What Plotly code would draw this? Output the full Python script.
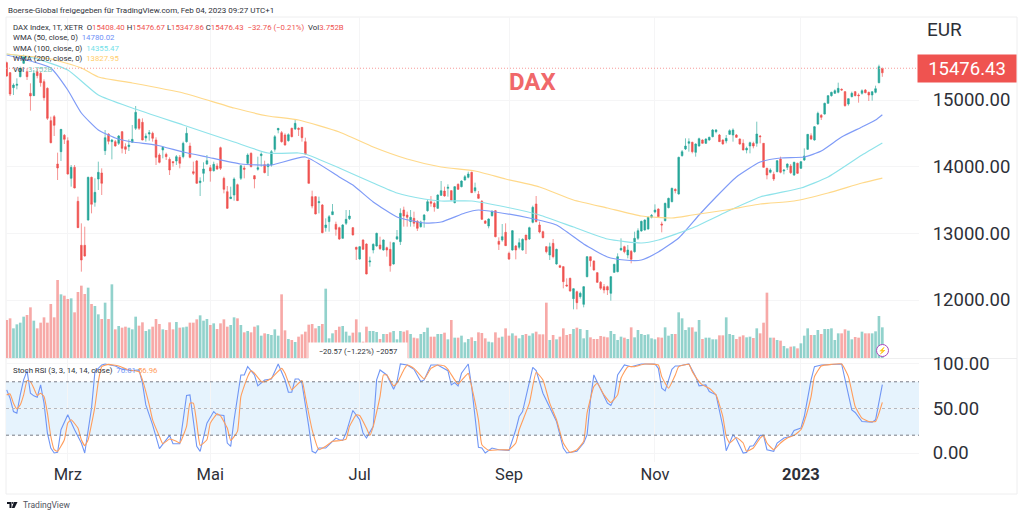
import plotly.graph_objects as go

W, H = 1024, 516
FONT = "Roboto"
GREEN = "#26a69a"
RED = "#ef5350"
GRID_COLOR = "#f5f5f6"
FRAME_COLOR = "#eeeeef"
TEXT_COLOR = "#2e3038"

OPEN = [15560, 15410, 15185, 15220, 15350, 15550, 15425, 15100, 15065, 15425,
        15400, 15275, 15175, 14690, 14750, 14040, 14225, 14470, 14390, 13825,
        13990, 13480, 12820, 12820, 13200, 13840, 13465, 13815, 13905, 14240,
        14490, 14375, 14375, 14350, 14525, 14300, 14300, 14365, 14575, 14710,
        14665, 14430, 14490, 14500, 14400, 14175, 14250, 14185, 14110, 14075,
        14085, 14140, 14150, 14375, 14310, 13925, 14085, 13760, 13900, 14040,
        13985, 13940, 14010, 14285, 13825, 13625, 13520, 13575, 13730, 13825,
        13980, 14050, 14200, 13865, 13960, 14165, 14030, 14000, 14025, 14260,
        14550, 14510, 14475, 14390, 14575, 14565, 14575, 14590, 14375, 14100,
        13550, 13550, 13460, 13425, 13085, 13175, 13280, 13135, 13085, 12925,
        13150, 13220, 13085, 12790, 12615, 12900, 12840, 12570, 12750, 12810,
        12825, 12750, 12785, 12760, 12540, 12915, 12875, 13350, 13275, 13175,
        13225, 13180, 13100, 13200, 13340, 13475, 13450, 13375, 13570, 13635,
        13675, 13640, 13460, 13735, 13700, 13800, 13840, 13915, 13640, 13585,
        13480, 13185, 13110, 13265, 13340, 12880, 12900, 13015, 12700, 12750,
        12810, 12790, 12750, 12975, 12915, 13165, 13440, 13125, 13025, 12800,
        12675, 12850, 12540, 12515, 12500, 12225, 12325, 12020, 12125, 12050,
        11935, 12350, 12650, 12585, 12410, 12265, 12200, 12200, 12100, 12415,
        12425, 12750, 12800, 12675, 12730, 12725, 12925, 13035, 13050, 13065,
        13240, 13320, 13365, 13140, 13190, 13385, 13475, 13660, 13590, 14165,
        14265, 14350, 14365, 14215, 14310, 14400, 14350, 14400, 14450, 14525,
        14475, 14400, 14385, 14485, 14475, 14475, 14415, 14350, 14250, 14310,
        14350, 14350, 14460, 14350, 13975, 13915, 13885, 13925, 14115, 13935,
        13990, 14010, 13875, 14050, 13975, 14100, 14260, 14465, 14400, 14640,
        14770, 14790, 14950, 15065, 15100, 15115, 15160, 15125, 14940, 15050,
        15125, 15075, 15100, 15150, 15115, 15075, 15115, 15260, 15408.40]
HIGH = [15575, 15420, 15250, 15325, 15500, 15680, 15475, 15250, 15450, 15475,
        15425, 15310, 15190, 14750, 14775, 14210, 14565, 14490, 14440, 14025,
        14025, 13550, 13150, 13100, 13850, 13850, 13825, 14075, 13975, 14550,
        14500, 14415, 14400, 14475, 14535, 14350, 14410, 14625, 14910, 14725,
        14725, 14500, 14550, 14525, 14440, 14200, 14300, 14210, 14140, 14085,
        14175, 14175, 14375, 14590, 14360, 14075, 14100, 13840, 14065, 14175,
        14025, 14075, 14050, 14300, 13850, 13710, 13700, 13840, 13745, 14025,
        14015, 14200, 14215, 13875, 14150, 14215, 14090, 14050, 14250, 14475,
        14580, 14535, 14500, 14500, 14585, 14700, 14590, 14590, 14435, 14110,
        13640, 13560, 13550, 13440, 13225, 13275, 13440, 13175, 13100, 13140,
        13350, 13350, 13095, 12800, 12810, 12910, 12850, 12650, 12850, 13010,
        12950, 12910, 12800, 12875, 12870, 13050, 13375, 13400, 13325, 13350,
        13325, 13200, 13190, 13290, 13500, 13560, 13475, 13585, 13785, 13700,
        13735, 13650, 13710, 13750, 13795, 13875, 13925, 13925, 13760, 13635,
        13500, 13200, 13225, 13350, 13350, 12940, 13140, 13150, 12725, 13050,
        12825, 12925, 12925, 12975, 13100, 13415, 13560, 13175, 13040, 12810,
        12860, 12915, 12770, 12530, 12510, 12325, 12335, 12175, 12140, 12125,
        12210, 12660, 12650, 12595, 12420, 12285, 12240, 12215, 12360, 12545,
        12700, 12925, 12815, 12825, 12750, 13025, 13075, 13190, 13210, 13250,
        13290, 13435, 13375, 13175, 13460, 13535, 13685, 13675, 14150, 14250,
        14425, 14425, 14375, 14350, 14435, 14410, 14425, 14450, 14565, 14565,
        14490, 14410, 14475, 14560, 14575, 14490, 14425, 14410, 14300, 14375,
        14375, 14675, 14475, 14355, 13985, 13975, 13925, 14100, 14150, 13960,
        14050, 14040, 14075, 14060, 14085, 14275, 14490, 14500, 14610, 14825,
        14790, 14960, 15075, 15125, 15160, 15260, 15175, 15135, 15025, 15125,
        15135, 15100, 15160, 15165, 15125, 15130, 15215, 15530, 15476.67]
LOW = [15350, 15060, 15075, 15160, 15340, 15540, 15300, 14840, 15060, 15325,
       15200, 14990, 14700, 14350, 14460, 13800, 14085, 14340, 13880, 13700,
       13675, 13080, 12425, 12650, 13190, 13300, 13400, 13650, 13575, 14175,
       14335, 14110, 14300, 14325, 14200, 14190, 14235, 14360, 14550, 14550,
       14395, 14375, 14390, 14375, 14025, 14050, 14125, 14100, 13875, 14000,
       14025, 13975, 14125, 14360, 14125, 13875, 13745, 13560, 13775, 14025,
       13775, 13925, 13950, 13950, 13600, 13365, 13515, 13490, 13485, 13800,
       13825, 14025, 13990, 13675, 13940, 14000, 13900, 13860, 14000, 14225,
       14500, 14360, 14315, 14375, 14440, 14550, 14460, 14375, 14175, 13745,
       13375, 13285, 13300, 13000, 13025, 13025, 13275, 12965, 12900, 12920,
       13125, 13200, 12970, 12600, 12605, 12750, 12385, 12500, 12700, 12800,
       12750, 12740, 12650, 12425, 12530, 12900, 12825, 13100, 13100, 13100,
       13100, 13035, 13085, 13085, 13325, 13400, 13325, 13365, 13560, 13550,
       13550, 13490, 13450, 13650, 13690, 13790, 13825, 13605, 13610, 13515,
       13200, 13140, 13075, 13250, 12940, 12750, 12875, 12810, 12600, 12740,
       12610, 12760, 12740, 12690, 12900, 13150, 13165, 13000, 12925, 12700,
       12600, 12625, 12530, 12480, 12175, 12200, 12125, 11860, 11860, 12020,
       11890, 12340, 12500, 12440, 12255, 12150, 12100, 12075, 11990, 12405,
       12415, 12740, 12700, 12625, 12550, 12710, 12900, 13025, 13040, 13055,
       13225, 13300, 13240, 13015, 13180, 13375, 13465, 13600, 13580, 14150,
       14250, 14225, 14200, 14150, 14300, 14345, 14340, 14390, 14440, 14500,
       14370, 14330, 14350, 14475, 14375, 14430, 14330, 14245, 14200, 14200,
       14275, 14300, 14350, 13985, 13810, 13900, 13785, 13915, 13900, 13885,
       13950, 13890, 13860, 13890, 13965, 14085, 14250, 14400, 14390, 14625,
       14700, 14780, 14945, 15050, 15090, 15100, 15140, 14900, 14915, 15040,
       15055, 14960, 15080, 15100, 14985, 14990, 15100, 15250, 15347.86]
CLOSE = [15360, 15090, 15225, 15235, 15475, 15650, 15350, 15060, 15400, 15365,
         15260, 15035, 14725, 14360, 14620, 13980, 14560, 14410, 13890, 13990,
         13680, 13085, 12600, 12660, 13840, 13435, 13615, 13915, 13750, 14435,
         14380, 14400, 14310, 14460, 14275, 14260, 14325, 14410, 14815, 14575,
         14400, 14460, 14510, 14425, 14140, 14065, 14290, 14150, 13950, 14060,
         14150, 14050, 14350, 14500, 14140, 13900, 13750, 13785, 13965, 14090,
         13935, 14035, 13965, 13975, 13660, 13375, 13545, 13815, 13490, 14015,
         13960, 14175, 14000, 13815, 13985, 14190, 13910, 14035, 14225, 14450,
         14575, 14375, 14325, 14480, 14450, 14650, 14560, 14435, 14190, 13750,
         13410, 13290, 13475, 13010, 13125, 13250, 13325, 13060, 12915, 13125,
         13210, 13260, 12975, 12760, 12800, 12760, 12390, 12585, 12835, 13000,
         12770, 12900, 12750, 12515, 12860, 12950, 13300, 13260, 13240, 13240,
         13150, 13075, 13170, 13275, 13475, 13450, 13395, 13575, 13640, 13560,
         13690, 13500, 13700, 13660, 13785, 13850, 13890, 13610, 13685, 13525,
         13210, 13150, 13215, 13325, 12950, 12835, 12950, 12815, 12615, 13040,
         12750, 12860, 12910, 12900, 13085, 13390, 13175, 13020, 12935, 12725,
         12800, 12650, 12760, 12490, 12275, 12210, 12135, 12170, 11960, 12100,
         12200, 12650, 12590, 12450, 12265, 12175, 12150, 12150, 12350, 12535,
         12650, 12775, 12725, 12750, 12610, 12925, 13040, 13180, 13200, 13240,
         13270, 13350, 13250, 13125, 13450, 13525, 13675, 13640, 14140, 14225,
         14310, 14375, 14225, 14340, 14420, 14350, 14415, 14440, 14550, 14550,
         14375, 14340, 14425, 14540, 14550, 14440, 14340, 14250, 14275, 14360,
         14310, 14490, 14450, 13990, 13875, 13950, 13815, 14090, 13915, 13950,
         14040, 13910, 14065, 13900, 14075, 14160, 14485, 14415, 14600, 14800,
         14740, 14950, 15065, 15115, 15140, 15175, 15150, 14915, 15020, 15100,
         15065, 15065, 15140, 15110, 15075, 15125, 15170, 15500, 15476.43]
# 92 of these equal the 3.752B of the last session
VOLUME_READ = [114, 119, 89, 101, 106, 124, 129, 152, 112, 89,
               106, 122, 106, 162, 122, 234, 191, 187, 177, 179,
               137, 198, 217, 192, 211, 162, 156, 131, 117, 166,
               117, 221, 86, 96, 91, 94, 91, 86, 124, 97,
               107, 81, 86, 94, 117, 102, 86, 84, 107, 86,
               108, 91, 92, 94, 106, 106, 116, 128, 112, 117,
               99, 104, 87, 104, 116, 94, 99, 122, 119, 99,
               77, 81, 77, 94, 98, 67, 74, 72, 69, 86,
               67, 191, 83, 57, 54, 48, 64, 71, 79, 100,
               102, 89, 96, 102, 208, 59, 74, 84,
               94, 96, 79, 67, 76, 116, 77, 49, 94, 81,
               81, 78, 57, 72, 72, 77, 81, 56, 81, 79,
               83, 72, 61, 59, 72, 78, 91, 64, 64, 72,
               72, 76, 56, 114, 61, 61, 67, 47, 57, 62,
               51, 77, 75, 59, 49, 47, 77, 61, 64, 89,
               67, 74, 67, 59, 69, 72, 67, 74, 79, 71,
               71, 166, 54, 69, 56, 64, 89, 69, 72, 87,
               91, 87, 59, 84, 62, 57, 57, 66, 64, 62,
               81, 72, 54, 64, 61, 57, 92, 62, 84, 72,
               69, 71, 59, 56, 62,
               61, 92, 67, 72, 72, 137, 119, 84, 92, 92,
               79, 114, 57, 61, 61, 56, 56, 68, 68, 122,
               72, 69, 57, 64, 68, 62, 64, 60, 89, 74,
               106, 196, 61, 61, 54, 52, 36, 29, 34, 35,
               29, 44, 67, 89, 69, 69, 84, 72, 87, 87,
               89, 54, 74, 74, 86, 82, 56, 63, 61, 79,
               74, 74, 74, 80, 126, 92]

WMA50_AT = [0, 8, 13, 18, 22, 27, 32, 37, 44, 52, 59, 69, 78, 88, 98, 102, 108, 115, 123, 128, 135, 139, 144,
            154, 162, 170, 177, 182, 187, 192, 198, 204, 209, 215, 222, 228, 235, 240, 246, 252, 256, 258]
WMA50 = [15675, 15570, 15480, 15150, 14805, 14550, 14430, 14370, 14325, 14220, 14145, 14040, 14025, 14145,
         13845, 13725, 13470, 13245, 13155, 13170, 13305, 13350, 13320, 13230, 13125, 12840, 12645, 12600,
         12600, 12720, 12930, 13275, 13545, 13845, 14070, 14130, 14145, 14235, 14445, 14595, 14700, 14780.02]
WMA100_AT = [0, 8, 18, 27, 37, 52, 67, 77, 86, 88, 98, 108, 115, 123, 128, 137, 147, 157, 167, 177, 187, 192,
             202, 212, 222, 234, 242, 252, 258]
WMA100 = [15690, 15630, 15450, 15075, 14880, 14625, 14370, 14205, 14205, 14190, 13980, 13755, 13605, 13515,
          13485, 13485, 13395, 13275, 13095, 12915, 12855, 12900, 13080, 13320, 13545, 13680, 13845, 14175,
          14355.47]
WMA200_AT = [0, 13, 22, 27, 37, 52, 67, 77, 86, 98, 108, 118, 128, 138, 147, 157, 167, 177, 187, 196, 202, 212,
             222, 232, 242, 252, 258]
WMA200 = [15690, 15615, 15480, 15345, 15255, 15105, 14880, 14760, 14700, 14520, 14295, 14115, 13995, 13935,
          13815, 13695, 13500, 13380, 13260, 13230, 13275, 13350, 13440, 13485, 13605, 13755, 13827.95]

STOCH_K_AT = [0, 1, 2, 3, 4, 5, 6, 7, 8, 9, 10, 11, 12, 13, 14, 15, 16, 18, 20, 22, 23, 25, 26, 28, 29, 32, 34,
              37, 39, 40, 41, 43, 45, 47, 48, 49, 51, 52, 53, 54, 56, 57, 59, 61, 62, 64, 65, 66, 67, 69, 70,
              71, 73, 74, 76, 78, 80, 82, 83, 84, 85, 86, 87, 89, 90, 91, 92, 94, 95, 97, 98, 99, 100, 102,
              104, 105, 106, 108, 109, 110, 112, 114, 115, 116, 118, 120, 122, 123, 125, 127, 130, 131, 132,
              133, 134, 136, 137, 138, 139, 140, 141, 143, 145, 148, 150, 151, 152, 155, 156, 158, 160, 162,
              164, 165, 168, 170, 171, 172, 173, 175, 177, 178, 179, 180, 182, 184, 187, 191, 192, 193, 194,
              196, 197, 198, 201, 203, 204, 206, 207, 209, 211, 212, 214, 215, 217, 218, 219, 220, 222, 223,
              224, 226, 227, 229, 231, 232, 234, 235, 237, 238, 240, 246, 249, 250, 252, 255, 256, 258]
STOCH_K = [70.9, 61.6, 46.6, 44.8, 65.3, 82.1, 92.5, 67.2, 64.2, 62.7, 76.5, 56, 22.4, 5.6, 0, 0.7, 26.1, 42.9,
           26.1, 11.2, 0, 50.4, 91.4, 98.9, 100, 97.8, 94, 92.5, 93.3, 78.4, 54, 31.7, 4.9, 14.9, 19.8, 10.4,
           10.4, 37.3, 64.6, 65.3, 7.5, 1.9, 33.6, 46.6, 42.9, 42.2, 11.2, 7.5, 37.3, 87.7, 87.7, 97, 87.7,
           75.4, 82, 83.2, 100, 82, 68.3, 68.3, 83.2, 83.2, 78.4, 29.9, 1.9, 0, 5.6, 5.6, 9.3, 16.8, 14.9, 14.2,
           22.4, 47.8, 37.3, 22.4, 16.8, 29.9, 82.1, 93.3, 87.7, 71.6, 80.2, 100, 98.9, 94, 80.2, 82.1, 98.9,
           98.9, 92.5, 76.5, 79.1, 75.4, 89.6, 100, 74.6, 37.3, 6.3, 5.6, 0, 5.6, 3.7, 3, 26.1, 41, 46.6, 96.3,
           92.5, 67.2, 52.2, 35.4, 5.6, 0, 1.9, 11.2, 20.5, 59.7, 87.7, 70.9, 56, 53.4, 61.6, 87.7, 98.9, 97,
           100, 100, 95.1, 72.8, 69.8, 94, 97.8, 97.8, 100, 85.8, 75.4, 76.5, 69, 65.3, 29.9, 2.6, 20.5, 15.7,
           0, 0.7, 7.5, 8.2, 19.8, 19.8, 3.7, 1.9, 11.2, 16.8, 18.7, 25.4, 28, 41, 82.1, 97, 98.9, 100, 48.5,
           45.5, 35.4, 34.7, 37.3, 76.81]
STOCH_D_AT = [0, 1, 2, 3, 4, 5, 6, 7, 8, 9, 10, 11, 12, 13, 14, 15, 17, 18, 19, 21, 22, 23, 24, 26, 27, 28, 30,
              33, 36, 39, 40, 42, 43, 45, 46, 48, 50, 51, 53, 54, 55, 56, 57, 59, 60, 62, 63, 65, 66, 68, 69,
              71, 72, 73, 75, 76, 78, 81, 82, 84, 85, 87, 88, 90, 92, 94, 96, 98, 100, 101, 103, 104, 106, 107,
              108, 110, 111, 112, 114, 115, 117, 118, 120, 123, 125, 127, 129, 130, 132, 133, 135, 136, 137,
              139, 140, 142, 145, 148, 150, 151, 154, 156, 158, 160, 162, 164, 166, 168, 170, 171, 173, 174,
              176, 178, 180, 181, 183, 185, 188, 192, 193, 195, 197, 198, 201, 202, 204, 205, 207, 209, 211,
              212, 213, 215, 217, 218, 220, 222, 223, 224, 226, 228, 230, 232, 234, 235, 237, 238, 240, 243,
              246, 248, 250, 252, 254, 256, 258]
STOCH_D = [65.3, 66.4, 56, 49.6, 54.1, 65.3, 81.3, 80.2, 72.8, 64.6, 67.2, 63.4, 44.8, 18.7, 3.7, 1.9, 14.9,
           33.6, 37.3, 28, 14.9, 8.2, 14.9, 52.2, 80.2, 97, 99.6, 97.8, 93.3, 91.4, 82.1, 54.1, 37.3, 18.7,
           10.4, 15.7, 13.1, 11.2, 29.9, 56, 56, 33.6, 8.6, 14.9, 33.6, 44, 41.8, 28, 14.2, 24.3, 63.4, 85.8,
           92.5, 89.6, 80.2, 80.2, 84, 95.1, 89.6, 70.9, 74.6, 81.3, 63.4, 26.1, 3.7, 7.5, 13.1, 13.8, 15.7,
           29.9, 42.9, 42.2, 28, 19.8, 29.9, 63.4, 87.7, 87.7, 75.4, 78.4, 93.3, 98.9, 95.1, 83.2, 95.1, 98.9,
           97.8, 94, 82.1, 77.6, 85.8, 89.6, 74.6, 37.3, 9.3, 3, 3.7, 3.7, 11.2, 26.1, 56, 90.7, 82.1, 56, 37.3,
           11.2, 0.7, 3.7, 13.1, 44.8, 74.6, 78.4, 65.3, 56.7, 65.3, 84, 97, 97, 100, 98.9, 85.8, 72.8, 87.7,
           97, 99.6, 91.4, 80.2, 76.5, 72.8, 65.3, 41, 18.7, 11.2, 17.5, 11.2, 1.9, 5.6, 16.8, 19.8, 11.2, 3.7,
           11.2, 16.8, 19.8, 26.1, 35.4, 63.4, 85.8, 97.8, 99.6, 100, 85.8, 52.2, 39.2, 35.4, 35.4, 56.96]

MONTH_TICKS = [18, 60, 104, 148, 191, 234]
MONTH_LABELS = ["Mrz", "Mai", "Jul", "Sep", "Nov", "<b>2023</b>"]
PRICE_TICKS = [12000, 13000, 14000, 15000]
STOCH_TICKS = [0, 50, 100]
LAST_PRICE = 15476.43
STOCH_UPPER, STOCH_MID, STOCH_LOWER = 80, 50, 20

HEADER = "Boerse-Global freigegeben für TradingView.com, Feb 04, 2023 09:27 UTC+1"
TITLE = "DAX"


def px_x(x):
    return x / W


def px_y(y):
    return 1 - y / H


def colored(text, color):
    return f'<span style="color:{color}">{text}</span>'


def note(x, y, text, size=7.8, color=TEXT_COLOR, **kwargs):
    return dict(xref="paper", yref="paper", x=px_x(x), y=px_y(y), text=text, showarrow=False,
                xanchor=kwargs.pop("xanchor", "left"), yanchor="middle",
                font=dict(family=FONT, size=size, color=color), **kwargs)


def frame_line(x0, y0, x1, y1):
    return dict(type="line", xref="paper", yref="paper", x0=px_x(x0), y0=px_y(y0), x1=px_x(x1), y1=px_y(y1),
                line=dict(color=FRAME_COLOR, width=1), layer="below")


def stoch_level(value, color):
    return dict(type="line", xref="paper", yref="y3", x0=px_x(6), x1=px_x(919), y0=value, y1=value,
                line=dict(color=color, width=1, dash="3px,3px"))


sessions = list(range(len(CLOSE)))
# TradingView paints the last bar by the previous close, so it gets its own trace
painted = sessions[:-1]
volume_million = [v * 3752 / 92 for v in VOLUME_READ]
volume_colors = ["rgba(38,166,154,0.5)" if CLOSE[i] >= OPEN[i] else "rgba(239,83,80,0.5)" for i in sessions]
volume_colors[-1] = "rgba(38,166,154,0.5)"

fig = go.Figure()
fig.add_trace(go.Bar(x=sessions, y=volume_million, marker_color=volume_colors, marker_line_width=0,
                     yaxis="y", xaxis="x", name="Vol"))
fig.add_trace(go.Candlestick(
    x=painted, open=OPEN[:-1], high=HIGH[:-1], low=LOW[:-1], close=CLOSE[:-1],
    yaxis="y2", xaxis="x", whiskerwidth=0,
    increasing=dict(line=dict(color="rgba(38,166,154,0.62)", width=1), fillcolor=GREEN),
    decreasing=dict(line=dict(color="rgba(239,83,80,0.62)", width=1), fillcolor=RED),
))
fig.add_trace(go.Candlestick(
    x=sessions[-1:], open=OPEN[-1:], high=HIGH[-1:], low=LOW[-1:], close=CLOSE[-1:],
    yaxis="y2", xaxis="x", whiskerwidth=0,
    increasing=dict(line=dict(color="rgba(239,83,80,0.62)", width=1), fillcolor=RED),
    decreasing=dict(line=dict(color="rgba(239,83,80,0.62)", width=1), fillcolor=RED),
))
for at, values, color in [(WMA50_AT, WMA50, "#7f9bf7"), (WMA100_AT, WMA100, "#8fe3ea"), (WMA200_AT, WMA200, "#ffd98a")]:
    fig.add_trace(go.Scatter(x=at, y=values, mode="lines", yaxis="y2", xaxis="x",
                             line=dict(color=color, width=1.2, shape="spline", smoothing=0.5)))
fig.add_trace(go.Scatter(x=STOCH_K_AT, y=STOCH_K, mode="lines", yaxis="y3", xaxis="x",
                         line=dict(color="#7096f5", width=1.1)))
fig.add_trace(go.Scatter(x=STOCH_D_AT, y=STOCH_D, mode="lines", yaxis="y3", xaxis="x",
                         line=dict(color="#ff9d5c", width=1.1, shape="spline", smoothing=0.4)))

shapes = [
    frame_line(6, 17, 1017, 17),
    frame_line(6, 17, 6, 494),
    frame_line(6, 494, 1017, 494),
    frame_line(1017, 17, 1017, 494),
    frame_line(6, 358.5, 1017, 358.5),
    dict(type="rect", xref="paper", yref="y3", x0=px_x(6), x1=px_x(919), y0=STOCH_LOWER, y1=STOCH_UPPER,
         fillcolor="#e6f3fd", line_width=0, layer="below"),
    stoch_level(STOCH_UPPER, "#787b86"),
    stoch_level(STOCH_MID, "#b5b7bd"),
    stoch_level(STOCH_LOWER, "#787b86"),
    dict(type="line", xref="paper", yref="y2", x0=px_x(6), x1=px_x(919), y0=LAST_PRICE, y1=LAST_PRICE,
         line=dict(color="#f79a98", width=1, dash="1px,2px")),
    dict(type="circle", xref="paper", yref="paper", x0=px_x(876.5), x1=px_x(888.5), y0=px_y(344.5), y1=px_y(356.5),
         line=dict(color="#ab47bc", width=1), fillcolor="white"),
    # TradingView logo
    dict(type="path", xref="paper", yref="paper", fillcolor="#131722", line_width=0,
         path=" ".join(f"{c}{px_x(x):.5f},{px_y(y):.5f}" for c, x, y in
                       [("M", 7, 502), ("L", 11.5, 502), ("L", 11.5, 508), ("L", 9.5, 508), ("L", 9.5, 504),
                        ("L", 7, 504)]) + " Z"),
    dict(type="path", xref="paper", yref="paper", fillcolor="#131722", line_width=0,
         path=" ".join(f"{c}{px_x(x):.5f},{px_y(y):.5f}" for c, x, y in
                       [("M", 14, 502), ("L", 17.5, 502), ("L", 14.5, 508), ("L", 11.8, 508)]) + " Z"),
    dict(type="circle", xref="paper", yref="paper", fillcolor="#131722", line_width=0,
         x0=px_x(11.8), x1=px_x(13.6), y0=px_y(503.8), y1=px_y(502)),
]

red_text = "#ef5350"
annotations = [
    note(6, 10, HEADER, size=8),
    note(11, 27.3, "DAX Index, 1T, XETR  O" + colored("15408.40", red_text) + " H" + colored("15476.67", red_text)
         + " L" + colored("15347.86", red_text) + " C" + colored("15476.43", red_text) + "  "
         + colored("−32.76 (−0.21%)", red_text) + "  Vol" + colored("3.752B", red_text)),
    note(11, 37.7, "WMA (50, close, 0)  " + colored("14780.02", "#6f8ff7")),
    note(11, 48.3, "WMA (100, close, 0)  " + colored("14355.47", "#74dfe9")),
    note(11, 58.5, "WMA (200, close, 0)  " + colored("13827.95", "#ffce6b")),
    note(11, 69, "Vol  " + colored("3.752B", "#7fcdbf")),
    note(11, 370, "Stoch RSI (3, 3, 14, 14, close)  " + colored("76.81", "#7096f5") + " " + colored("56.96", "#ff9d5c")),
    note(532, 82, f"<b>{TITLE}</b>", size=24, color="#f0686a", xanchor="center"),
    note(925, 30, "EUR", size=19),
    note(967, 68.5, f"{LAST_PRICE:.2f}", size=18.5, color="white", xanchor="center", bgcolor=RED,
         width=96, height=25),
    note(358, 351, "−20.57 (−1.22%) −2057", size=7.6, xanchor="center", bgcolor="white", width=96, height=15),
    note(882.5, 350.5, "⚡", size=7, color="#ab47bc", xanchor="center"),
    note(21, 505, "TradingView", size=8.5, color="#50535e"),
]

fig.update_layout(
    width=W, height=H,
    margin=dict(l=0, r=0, t=0, b=0, autoexpand=False),
    paper_bgcolor="white",
    plot_bgcolor="white",
    showlegend=False,
    bargap=0.22,
    hovermode=False,
    font=dict(family=FONT, color=TEXT_COLOR),
    xaxis=dict(
        domain=[px_x(6), px_x(919)], anchor="y3", range=[-0.2, 268.8],
        rangeslider_visible=False, showline=False, zeroline=False,
        tickmode="array", tickvals=MONTH_TICKS, ticktext=MONTH_LABELS,
        tickfont=dict(family=FONT, size=16.5, color=TEXT_COLOR),
        ticks="", ticklen=0,
        showgrid=True, gridcolor=GRID_COLOR, gridwidth=1,
    ),
    yaxis=dict(
        domain=[px_y(358), px_y(17)], range=[0, 1023 * 3752 / 92], visible=False, anchor="x", fixedrange=True,
    ),
    yaxis2=dict(
        domain=[px_y(358), px_y(17)], overlaying="y", side="right", anchor="x", range=[11130, 16245],
        tickmode="array", tickvals=PRICE_TICKS, tickformat=".2f",
        tickfont=dict(family=FONT, size=18.5, color=TEXT_COLOR),
        ticks="outside", ticklen=9, tickcolor="white",
        showgrid=True, gridcolor=GRID_COLOR, gridwidth=1, zeroline=False, showline=False,
    ),
    yaxis3=dict(
        domain=[px_y(462), px_y(359)], side="right", anchor="x", range=[-10.1, 105.6],
        tickmode="array", tickvals=STOCH_TICKS, tickformat=".2f",
        tickfont=dict(family=FONT, size=18.5, color=TEXT_COLOR),
        ticks="outside", ticklen=9, tickcolor="white",
        showgrid=True, gridcolor=GRID_COLOR, gridwidth=1, zeroline=False, showline=False,
    ),
    shapes=shapes,
    annotations=annotations,
)

fig.write_html("out.html", config={"displayModeBar": False}, post_script="document.body.style.margin='0';")
